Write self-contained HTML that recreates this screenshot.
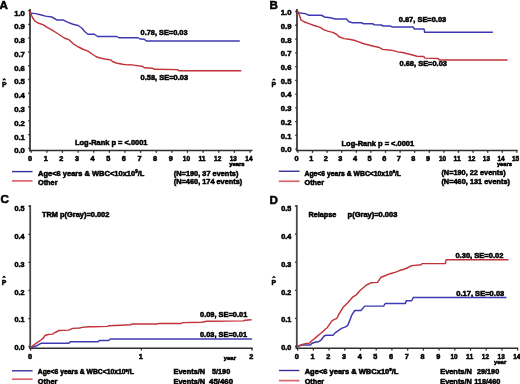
<!DOCTYPE html>
<html><head><meta charset="utf-8"><style>
html,body{margin:0;padding:0;background:#fff;}
body{width:520px;height:384px;overflow:hidden;}
svg{display:block;filter:blur(0.3px);}
text{font-family:"Liberation Sans", sans-serif;}
</style></head><body>
<svg width="520" height="384" viewBox="0 0 520 384">
<rect width="520" height="384" fill="#fff"/>
<text x="-0.60" y="8.98" font-size="11.6" text-anchor="start" font-weight="bold" fill="#000" stroke="#000" stroke-width="0.55">A</text>
<line x1="30.00" y1="9.00" x2="30.00" y2="151.30" stroke="#2e2e2e" stroke-width="1.7"/>
<line x1="29.00" y1="150.50" x2="252.50" y2="150.50" stroke="#2e2e2e" stroke-width="1.45"/>
<line x1="28.20" y1="148.30" x2="30.00" y2="148.30" stroke="#2e2e2e" stroke-width="1.3"/>
<text x="24.90" y="153.27" font-size="7.7" text-anchor="end" font-weight="bold" fill="#000" stroke="#000" stroke-width="0.55">0.0</text>
<line x1="28.20" y1="134.54" x2="30.00" y2="134.54" stroke="#2e2e2e" stroke-width="1.3"/>
<text x="24.90" y="139.51" font-size="7.7" text-anchor="end" font-weight="bold" fill="#000" stroke="#000" stroke-width="0.55">0.1</text>
<line x1="28.20" y1="120.78" x2="30.00" y2="120.78" stroke="#2e2e2e" stroke-width="1.3"/>
<text x="24.90" y="125.75" font-size="7.7" text-anchor="end" font-weight="bold" fill="#000" stroke="#000" stroke-width="0.55">0.2</text>
<line x1="28.20" y1="107.02" x2="30.00" y2="107.02" stroke="#2e2e2e" stroke-width="1.3"/>
<text x="24.90" y="111.99" font-size="7.7" text-anchor="end" font-weight="bold" fill="#000" stroke="#000" stroke-width="0.55">0.3</text>
<line x1="28.20" y1="93.26" x2="30.00" y2="93.26" stroke="#2e2e2e" stroke-width="1.3"/>
<text x="24.90" y="98.23" font-size="7.7" text-anchor="end" font-weight="bold" fill="#000" stroke="#000" stroke-width="0.55">0.4</text>
<line x1="28.20" y1="79.50" x2="30.00" y2="79.50" stroke="#2e2e2e" stroke-width="1.3"/>
<text x="24.90" y="84.47" font-size="7.7" text-anchor="end" font-weight="bold" fill="#000" stroke="#000" stroke-width="0.55">0.5</text>
<line x1="28.20" y1="65.74" x2="30.00" y2="65.74" stroke="#2e2e2e" stroke-width="1.3"/>
<text x="24.90" y="70.71" font-size="7.7" text-anchor="end" font-weight="bold" fill="#000" stroke="#000" stroke-width="0.55">0.6</text>
<line x1="28.20" y1="51.98" x2="30.00" y2="51.98" stroke="#2e2e2e" stroke-width="1.3"/>
<text x="24.90" y="56.95" font-size="7.7" text-anchor="end" font-weight="bold" fill="#000" stroke="#000" stroke-width="0.55">0.7</text>
<line x1="28.20" y1="38.22" x2="30.00" y2="38.22" stroke="#2e2e2e" stroke-width="1.3"/>
<text x="24.90" y="43.19" font-size="7.7" text-anchor="end" font-weight="bold" fill="#000" stroke="#000" stroke-width="0.55">0.8</text>
<line x1="28.20" y1="24.46" x2="30.00" y2="24.46" stroke="#2e2e2e" stroke-width="1.3"/>
<text x="24.90" y="29.43" font-size="7.7" text-anchor="end" font-weight="bold" fill="#000" stroke="#000" stroke-width="0.55">0.9</text>
<line x1="28.20" y1="10.70" x2="30.00" y2="10.70" stroke="#2e2e2e" stroke-width="1.3"/>
<text x="24.90" y="15.67" font-size="7.7" text-anchor="end" font-weight="bold" fill="#000" stroke="#000" stroke-width="0.55">1.0</text>
<line x1="31.20" y1="150.50" x2="31.20" y2="152.80" stroke="#2e2e2e" stroke-width="1.3"/>
<text x="30.10" y="161.23" font-size="7.3" text-anchor="middle" font-weight="bold" fill="#000" stroke="#000" stroke-width="0.55">0</text>
<line x1="46.83" y1="150.50" x2="46.83" y2="152.80" stroke="#2e2e2e" stroke-width="1.3"/>
<text x="45.73" y="161.23" font-size="7.3" text-anchor="middle" font-weight="bold" fill="#000" stroke="#000" stroke-width="0.55">1</text>
<line x1="62.46" y1="150.50" x2="62.46" y2="152.80" stroke="#2e2e2e" stroke-width="1.3"/>
<text x="61.36" y="161.23" font-size="7.3" text-anchor="middle" font-weight="bold" fill="#000" stroke="#000" stroke-width="0.55">2</text>
<line x1="78.09" y1="150.50" x2="78.09" y2="152.80" stroke="#2e2e2e" stroke-width="1.3"/>
<text x="76.99" y="161.23" font-size="7.3" text-anchor="middle" font-weight="bold" fill="#000" stroke="#000" stroke-width="0.55">3</text>
<line x1="93.72" y1="150.50" x2="93.72" y2="152.80" stroke="#2e2e2e" stroke-width="1.3"/>
<text x="92.62" y="161.23" font-size="7.3" text-anchor="middle" font-weight="bold" fill="#000" stroke="#000" stroke-width="0.55">4</text>
<line x1="109.35" y1="150.50" x2="109.35" y2="152.80" stroke="#2e2e2e" stroke-width="1.3"/>
<text x="108.25" y="161.23" font-size="7.3" text-anchor="middle" font-weight="bold" fill="#000" stroke="#000" stroke-width="0.55">5</text>
<line x1="124.98" y1="150.50" x2="124.98" y2="152.80" stroke="#2e2e2e" stroke-width="1.3"/>
<text x="123.88" y="161.23" font-size="7.3" text-anchor="middle" font-weight="bold" fill="#000" stroke="#000" stroke-width="0.55">6</text>
<line x1="140.61" y1="150.50" x2="140.61" y2="152.80" stroke="#2e2e2e" stroke-width="1.3"/>
<text x="139.51" y="161.23" font-size="7.3" text-anchor="middle" font-weight="bold" fill="#000" stroke="#000" stroke-width="0.55">7</text>
<line x1="156.24" y1="150.50" x2="156.24" y2="152.80" stroke="#2e2e2e" stroke-width="1.3"/>
<text x="155.14" y="161.23" font-size="7.3" text-anchor="middle" font-weight="bold" fill="#000" stroke="#000" stroke-width="0.55">8</text>
<line x1="171.87" y1="150.50" x2="171.87" y2="152.80" stroke="#2e2e2e" stroke-width="1.3"/>
<text x="170.77" y="161.23" font-size="7.3" text-anchor="middle" font-weight="bold" fill="#000" stroke="#000" stroke-width="0.55">9</text>
<line x1="187.50" y1="150.50" x2="187.50" y2="152.80" stroke="#2e2e2e" stroke-width="1.3"/>
<text x="186.40" y="161.23" font-size="7.3" text-anchor="middle" font-weight="bold" fill="#000" stroke="#000" stroke-width="0.55" textLength="7.2" lengthAdjust="spacingAndGlyphs">10</text>
<line x1="203.13" y1="150.50" x2="203.13" y2="152.80" stroke="#2e2e2e" stroke-width="1.3"/>
<text x="202.03" y="161.23" font-size="7.3" text-anchor="middle" font-weight="bold" fill="#000" stroke="#000" stroke-width="0.55" textLength="7.2" lengthAdjust="spacingAndGlyphs">11</text>
<line x1="218.76" y1="150.50" x2="218.76" y2="152.80" stroke="#2e2e2e" stroke-width="1.3"/>
<text x="217.66" y="161.23" font-size="7.3" text-anchor="middle" font-weight="bold" fill="#000" stroke="#000" stroke-width="0.55" textLength="7.2" lengthAdjust="spacingAndGlyphs">12</text>
<line x1="234.39" y1="150.50" x2="234.39" y2="152.80" stroke="#2e2e2e" stroke-width="1.3"/>
<text x="233.29" y="161.23" font-size="7.3" text-anchor="middle" font-weight="bold" fill="#000" stroke="#000" stroke-width="0.55" textLength="7.2" lengthAdjust="spacingAndGlyphs">13</text>
<line x1="250.02" y1="150.50" x2="250.02" y2="152.80" stroke="#2e2e2e" stroke-width="1.3"/>
<text x="248.92" y="161.23" font-size="7.3" text-anchor="middle" font-weight="bold" fill="#000" stroke="#000" stroke-width="0.55" textLength="7.2" lengthAdjust="spacingAndGlyphs">14</text>
<text x="229.20" y="165.72" font-size="5.9" text-anchor="start" font-weight="bold" fill="#000" stroke="#000" stroke-width="0.55" textLength="15.4" lengthAdjust="spacingAndGlyphs">years</text>
<text x="4.20" y="87.01" font-size="7.8" text-anchor="middle" font-weight="bold" fill="#000" stroke="#000" stroke-width="0.55" textLength="4.6" lengthAdjust="spacingAndGlyphs">P</text>
<path d="M2.80,80.20 L4.20,78.90 L5.60,80.20" fill="none" stroke="#000" stroke-width="1.2"/>
<text x="140.60" y="34.56" font-size="7.8" text-anchor="start" font-weight="bold" fill="#000" stroke="#000" stroke-width="0.55" textLength="46.9" lengthAdjust="spacingAndGlyphs">0.78, SE=0.03</text>
<text x="140.50" y="80.31" font-size="7.8" text-anchor="start" font-weight="bold" fill="#000" stroke="#000" stroke-width="0.55" textLength="47.6" lengthAdjust="spacingAndGlyphs">0.58, SE=0.03</text>
<text x="75.00" y="145.31" font-size="7.8" text-anchor="start" font-weight="bold" fill="#000" stroke="#000" stroke-width="0.55" textLength="72.5" lengthAdjust="spacingAndGlyphs">Log-Rank p = &lt;.0001</text>
<line x1="12.00" y1="171.60" x2="32.50" y2="171.60" stroke="#35309a" stroke-width="1.4"/>
<line x1="12.00" y1="180.90" x2="32.50" y2="180.90" stroke="#d8646c" stroke-width="1.7"/>
<text x="38.00" y="176.01" font-size="7.8" text-anchor="start" font-weight="bold" fill="#000" stroke="#000" stroke-width="0.55" textLength="106.3" lengthAdjust="spacingAndGlyphs">Age&lt;6 years &amp; WBC&lt;10x10<tspan font-size="4.6" dy="-2.6">9</tspan><tspan dy="2.6">/L</tspan></text>
<text x="38.00" y="184.91" font-size="7.8" text-anchor="start" font-weight="bold" fill="#000" stroke="#000" stroke-width="0.55" textLength="19.5" lengthAdjust="spacingAndGlyphs">Other</text>
<text x="173.80" y="176.11" font-size="7.8" text-anchor="start" font-weight="bold" fill="#000" stroke="#000" stroke-width="0.55" textLength="64.6" lengthAdjust="spacingAndGlyphs">(N=190, 37 events)</text>
<text x="173.80" y="184.41" font-size="7.8" text-anchor="start" font-weight="bold" fill="#000" stroke="#000" stroke-width="0.55" textLength="68.5" lengthAdjust="spacingAndGlyphs">(N=460, 174 events)</text>
<path d="M30.50,13.10 L35.50,13.60 L40.50,14.70 L45.50,16.10 L51.75,17.00 L56.75,19.90 L63.00,19.90 L68.00,22.40 L73.00,24.25 L78.00,25.50 L81.75,28.00 L84.90,31.75 L88.00,34.25 L94.40,34.25 L97.50,36.50 L116.90,36.50 L118.75,37.75 L138.10,37.75 L140.00,39.00 L144.40,39.25 L146.25,41.00 L239.75,41.00" fill="none" stroke="#3e38b2" stroke-width="1.45" stroke-linejoin="round" stroke-linecap="butt"/>
<path d="M30.30,11.00 L30.80,13.00 L31.50,15.20 L32.70,18.00 L35.00,21.10 L38.10,23.00 L42.80,24.60 L46.75,27.20 L51.75,29.90 L56.75,33.00 L60.50,35.50 L64.25,38.00 L69.25,39.90 L73.00,43.60 L78.00,46.75 L83.00,49.25 L88.00,51.10 L92.50,54.25 L96.25,56.75 L100.00,58.00 L105.00,59.00 L110.60,59.90 L112.50,61.50 L116.25,63.00 L122.50,64.25 L127.50,64.90 L130.00,64.60 L135.50,65.40 L142.75,66.50 L144.60,67.80 L152.80,68.30 L154.60,69.30 L177.60,69.60 L179.20,70.80 L241.25,70.80" fill="none" stroke="#c23238" stroke-width="1.45" stroke-linejoin="round" stroke-linecap="butt"/>
<text x="269.50" y="9.08" font-size="11.6" text-anchor="start" font-weight="bold" fill="#000" stroke="#000" stroke-width="0.55">B</text>
<line x1="297.00" y1="9.00" x2="297.00" y2="151.30" stroke="#2e2e2e" stroke-width="1.7"/>
<line x1="296.00" y1="150.50" x2="517.50" y2="150.50" stroke="#2e2e2e" stroke-width="1.45"/>
<line x1="295.20" y1="149.20" x2="297.00" y2="149.20" stroke="#2e2e2e" stroke-width="1.3"/>
<text x="291.50" y="152.37" font-size="7.7" text-anchor="end" font-weight="bold" fill="#000" stroke="#000" stroke-width="0.55">0.0</text>
<line x1="295.20" y1="135.43" x2="297.00" y2="135.43" stroke="#2e2e2e" stroke-width="1.3"/>
<text x="291.50" y="138.65" font-size="7.7" text-anchor="end" font-weight="bold" fill="#000" stroke="#000" stroke-width="0.55">0.1</text>
<line x1="295.20" y1="121.66" x2="297.00" y2="121.66" stroke="#2e2e2e" stroke-width="1.3"/>
<text x="291.50" y="124.93" font-size="7.7" text-anchor="end" font-weight="bold" fill="#000" stroke="#000" stroke-width="0.55">0.2</text>
<line x1="295.20" y1="107.89" x2="297.00" y2="107.89" stroke="#2e2e2e" stroke-width="1.3"/>
<text x="291.50" y="111.21" font-size="7.7" text-anchor="end" font-weight="bold" fill="#000" stroke="#000" stroke-width="0.55">0.3</text>
<line x1="295.20" y1="94.12" x2="297.00" y2="94.12" stroke="#2e2e2e" stroke-width="1.3"/>
<text x="291.50" y="97.49" font-size="7.7" text-anchor="end" font-weight="bold" fill="#000" stroke="#000" stroke-width="0.55">0.4</text>
<line x1="295.20" y1="80.35" x2="297.00" y2="80.35" stroke="#2e2e2e" stroke-width="1.3"/>
<text x="291.50" y="83.77" font-size="7.7" text-anchor="end" font-weight="bold" fill="#000" stroke="#000" stroke-width="0.55">0.5</text>
<line x1="295.20" y1="66.58" x2="297.00" y2="66.58" stroke="#2e2e2e" stroke-width="1.3"/>
<text x="291.50" y="70.05" font-size="7.7" text-anchor="end" font-weight="bold" fill="#000" stroke="#000" stroke-width="0.55">0.6</text>
<line x1="295.20" y1="52.81" x2="297.00" y2="52.81" stroke="#2e2e2e" stroke-width="1.3"/>
<text x="291.50" y="56.33" font-size="7.7" text-anchor="end" font-weight="bold" fill="#000" stroke="#000" stroke-width="0.55">0.7</text>
<line x1="295.20" y1="39.04" x2="297.00" y2="39.04" stroke="#2e2e2e" stroke-width="1.3"/>
<text x="291.50" y="42.61" font-size="7.7" text-anchor="end" font-weight="bold" fill="#000" stroke="#000" stroke-width="0.55">0.8</text>
<line x1="295.20" y1="25.27" x2="297.00" y2="25.27" stroke="#2e2e2e" stroke-width="1.3"/>
<text x="291.50" y="28.89" font-size="7.7" text-anchor="end" font-weight="bold" fill="#000" stroke="#000" stroke-width="0.55">0.9</text>
<line x1="295.20" y1="11.50" x2="297.00" y2="11.50" stroke="#2e2e2e" stroke-width="1.3"/>
<text x="291.50" y="15.17" font-size="7.7" text-anchor="end" font-weight="bold" fill="#000" stroke="#000" stroke-width="0.55">1.0</text>
<line x1="297.90" y1="150.50" x2="297.90" y2="152.80" stroke="#2e2e2e" stroke-width="1.3"/>
<text x="296.60" y="161.43" font-size="7.3" text-anchor="middle" font-weight="bold" fill="#000" stroke="#000" stroke-width="0.55">0</text>
<line x1="312.50" y1="150.50" x2="312.50" y2="152.80" stroke="#2e2e2e" stroke-width="1.3"/>
<text x="311.20" y="161.43" font-size="7.3" text-anchor="middle" font-weight="bold" fill="#000" stroke="#000" stroke-width="0.55">1</text>
<line x1="327.10" y1="150.50" x2="327.10" y2="152.80" stroke="#2e2e2e" stroke-width="1.3"/>
<text x="325.80" y="161.43" font-size="7.3" text-anchor="middle" font-weight="bold" fill="#000" stroke="#000" stroke-width="0.55">2</text>
<line x1="341.70" y1="150.50" x2="341.70" y2="152.80" stroke="#2e2e2e" stroke-width="1.3"/>
<text x="340.40" y="161.43" font-size="7.3" text-anchor="middle" font-weight="bold" fill="#000" stroke="#000" stroke-width="0.55">3</text>
<line x1="356.30" y1="150.50" x2="356.30" y2="152.80" stroke="#2e2e2e" stroke-width="1.3"/>
<text x="355.00" y="161.43" font-size="7.3" text-anchor="middle" font-weight="bold" fill="#000" stroke="#000" stroke-width="0.55">4</text>
<line x1="370.90" y1="150.50" x2="370.90" y2="152.80" stroke="#2e2e2e" stroke-width="1.3"/>
<text x="369.60" y="161.43" font-size="7.3" text-anchor="middle" font-weight="bold" fill="#000" stroke="#000" stroke-width="0.55">5</text>
<line x1="385.50" y1="150.50" x2="385.50" y2="152.80" stroke="#2e2e2e" stroke-width="1.3"/>
<text x="384.20" y="161.43" font-size="7.3" text-anchor="middle" font-weight="bold" fill="#000" stroke="#000" stroke-width="0.55">6</text>
<line x1="400.10" y1="150.50" x2="400.10" y2="152.80" stroke="#2e2e2e" stroke-width="1.3"/>
<text x="398.80" y="161.43" font-size="7.3" text-anchor="middle" font-weight="bold" fill="#000" stroke="#000" stroke-width="0.55">7</text>
<line x1="414.70" y1="150.50" x2="414.70" y2="152.80" stroke="#2e2e2e" stroke-width="1.3"/>
<text x="413.40" y="161.43" font-size="7.3" text-anchor="middle" font-weight="bold" fill="#000" stroke="#000" stroke-width="0.55">8</text>
<line x1="429.30" y1="150.50" x2="429.30" y2="152.80" stroke="#2e2e2e" stroke-width="1.3"/>
<text x="428.00" y="161.43" font-size="7.3" text-anchor="middle" font-weight="bold" fill="#000" stroke="#000" stroke-width="0.55">9</text>
<line x1="443.90" y1="150.50" x2="443.90" y2="152.80" stroke="#2e2e2e" stroke-width="1.3"/>
<text x="442.60" y="161.43" font-size="7.3" text-anchor="middle" font-weight="bold" fill="#000" stroke="#000" stroke-width="0.55" textLength="7.2" lengthAdjust="spacingAndGlyphs">10</text>
<line x1="458.50" y1="150.50" x2="458.50" y2="152.80" stroke="#2e2e2e" stroke-width="1.3"/>
<text x="457.20" y="161.43" font-size="7.3" text-anchor="middle" font-weight="bold" fill="#000" stroke="#000" stroke-width="0.55" textLength="7.2" lengthAdjust="spacingAndGlyphs">11</text>
<line x1="473.10" y1="150.50" x2="473.10" y2="152.80" stroke="#2e2e2e" stroke-width="1.3"/>
<text x="471.80" y="161.43" font-size="7.3" text-anchor="middle" font-weight="bold" fill="#000" stroke="#000" stroke-width="0.55" textLength="7.2" lengthAdjust="spacingAndGlyphs">12</text>
<line x1="487.70" y1="150.50" x2="487.70" y2="152.80" stroke="#2e2e2e" stroke-width="1.3"/>
<text x="486.40" y="161.43" font-size="7.3" text-anchor="middle" font-weight="bold" fill="#000" stroke="#000" stroke-width="0.55" textLength="7.2" lengthAdjust="spacingAndGlyphs">13</text>
<line x1="502.30" y1="150.50" x2="502.30" y2="152.80" stroke="#2e2e2e" stroke-width="1.3"/>
<text x="501.00" y="161.43" font-size="7.3" text-anchor="middle" font-weight="bold" fill="#000" stroke="#000" stroke-width="0.55" textLength="7.2" lengthAdjust="spacingAndGlyphs">14</text>
<line x1="516.90" y1="150.50" x2="516.90" y2="152.80" stroke="#2e2e2e" stroke-width="1.3"/>
<text x="515.60" y="161.43" font-size="7.3" text-anchor="middle" font-weight="bold" fill="#000" stroke="#000" stroke-width="0.55" textLength="7.2" lengthAdjust="spacingAndGlyphs">15</text>
<text x="496.90" y="165.92" font-size="5.9" text-anchor="start" font-weight="bold" fill="#000" stroke="#000" stroke-width="0.55" textLength="15" lengthAdjust="spacingAndGlyphs">years</text>
<text x="273.90" y="87.21" font-size="7.8" text-anchor="middle" font-weight="bold" fill="#000" stroke="#000" stroke-width="0.55" textLength="4.6" lengthAdjust="spacingAndGlyphs">P</text>
<path d="M272.50,80.40 L273.90,79.10 L275.30,80.40" fill="none" stroke="#000" stroke-width="1.2"/>
<text x="398.75" y="22.31" font-size="7.8" text-anchor="start" font-weight="bold" fill="#000" stroke="#000" stroke-width="0.55" textLength="47.5" lengthAdjust="spacingAndGlyphs">0.87, SE=0.03</text>
<text x="399.50" y="66.01" font-size="7.8" text-anchor="start" font-weight="bold" fill="#000" stroke="#000" stroke-width="0.55" textLength="47.5" lengthAdjust="spacingAndGlyphs">0.68, SE=0.03</text>
<text x="341.50" y="145.81" font-size="7.8" text-anchor="start" font-weight="bold" fill="#000" stroke="#000" stroke-width="0.55" textLength="72.7" lengthAdjust="spacingAndGlyphs">Log-Rank p = &lt;.0001</text>
<line x1="278.75" y1="171.25" x2="299.50" y2="171.25" stroke="#35309a" stroke-width="1.4"/>
<line x1="278.75" y1="181.25" x2="299.50" y2="181.25" stroke="#d8646c" stroke-width="1.7"/>
<text x="304.50" y="175.59" font-size="7.2" text-anchor="start" font-weight="bold" fill="#000" stroke="#000" stroke-width="0.55" textLength="96.5" lengthAdjust="spacingAndGlyphs">Age&lt;6 years &amp; WBC&lt;10x10<tspan font-size="4.2" dy="-2.4">9</tspan><tspan dy="2.4">/L</tspan></text>
<text x="304.50" y="185.11" font-size="7.8" text-anchor="start" font-weight="bold" fill="#000" stroke="#000" stroke-width="0.55" textLength="19.5" lengthAdjust="spacingAndGlyphs">Other</text>
<text x="441.40" y="175.11" font-size="7.8" text-anchor="start" font-weight="bold" fill="#000" stroke="#000" stroke-width="0.55" textLength="64.3" lengthAdjust="spacingAndGlyphs">(N=190, 22 events)</text>
<text x="441.40" y="183.61" font-size="7.8" text-anchor="start" font-weight="bold" fill="#000" stroke="#000" stroke-width="0.55" textLength="68.7" lengthAdjust="spacingAndGlyphs">(N=460, 131 events)</text>
<path d="M297.50,11.75 L299.60,13.00 L305.25,13.60 L309.00,15.25 L321.50,15.25 L324.60,17.00 L330.25,17.75 L335.25,19.00 L346.50,19.00 L349.00,21.75 L352.75,22.75 L361.25,22.75 L363.75,23.75 L372.50,23.75 L374.40,24.75 L381.25,25.00 L383.10,26.00 L390.60,26.00 L391.90,26.90 L413.10,26.90 L414.40,29.00 L424.00,29.00 L424.75,32.25 L492.90,32.25" fill="none" stroke="#3e38b2" stroke-width="1.45" stroke-linejoin="round" stroke-linecap="butt"/>
<path d="M297.50,11.10 L299.60,15.50 L300.90,19.90 L304.00,21.75 L309.00,23.60 L314.00,25.50 L320.25,27.40 L324.00,29.90 L327.75,31.10 L332.75,32.40 L336.50,34.25 L339.00,36.75 L344.00,38.60 L349.00,39.25 L354.00,40.30 L358.75,41.90 L363.75,43.75 L368.75,45.00 L373.75,46.25 L379.40,47.50 L382.50,49.40 L388.75,50.00 L393.75,50.60 L397.50,51.90 L402.50,52.50 L407.50,53.75 L412.50,55.00 L416.90,56.25 L423.75,56.50 L425.00,58.10 L438.10,58.50 L439.40,60.00 L507.50,60.00" fill="none" stroke="#c23238" stroke-width="1.45" stroke-linejoin="round" stroke-linecap="butt"/>
<text x="0.40" y="203.28" font-size="11.6" text-anchor="start" font-weight="bold" fill="#000" stroke="#000" stroke-width="0.55">C</text>
<line x1="30.20" y1="205.00" x2="30.20" y2="349.00" stroke="#484848" stroke-width="1.8"/>
<line x1="29.20" y1="348.20" x2="252.75" y2="348.20" stroke="#2e2e2e" stroke-width="1.4"/>
<line x1="28.40" y1="346.70" x2="30.20" y2="346.70" stroke="#2e2e2e" stroke-width="1.3"/>
<text x="24.40" y="350.19" font-size="7.2" text-anchor="end" font-weight="bold" fill="#000" stroke="#000" stroke-width="0.55">0.0</text>
<line x1="28.40" y1="318.60" x2="30.20" y2="318.60" stroke="#2e2e2e" stroke-width="1.3"/>
<text x="24.40" y="322.39" font-size="7.2" text-anchor="end" font-weight="bold" fill="#000" stroke="#000" stroke-width="0.55">0.1</text>
<line x1="28.40" y1="290.50" x2="30.20" y2="290.50" stroke="#2e2e2e" stroke-width="1.3"/>
<text x="24.40" y="294.59" font-size="7.2" text-anchor="end" font-weight="bold" fill="#000" stroke="#000" stroke-width="0.55">0.2</text>
<line x1="28.40" y1="262.40" x2="30.20" y2="262.40" stroke="#2e2e2e" stroke-width="1.3"/>
<text x="24.40" y="266.79" font-size="7.2" text-anchor="end" font-weight="bold" fill="#000" stroke="#000" stroke-width="0.55">0.3</text>
<line x1="28.40" y1="234.30" x2="30.20" y2="234.30" stroke="#2e2e2e" stroke-width="1.3"/>
<text x="24.40" y="238.99" font-size="7.2" text-anchor="end" font-weight="bold" fill="#000" stroke="#000" stroke-width="0.55">0.4</text>
<line x1="28.40" y1="206.20" x2="30.20" y2="206.20" stroke="#2e2e2e" stroke-width="1.3"/>
<text x="24.40" y="211.19" font-size="7.2" text-anchor="end" font-weight="bold" fill="#000" stroke="#000" stroke-width="0.55">0.5</text>
<line x1="30.60" y1="348.30" x2="30.60" y2="350.60" stroke="#2e2e2e" stroke-width="1.3"/>
<text x="30.00" y="358.73" font-size="7.3" text-anchor="middle" font-weight="bold" fill="#000" stroke="#000" stroke-width="0.55">0</text>
<line x1="141.30" y1="348.30" x2="141.30" y2="350.60" stroke="#2e2e2e" stroke-width="1.3"/>
<text x="140.70" y="358.73" font-size="7.3" text-anchor="middle" font-weight="bold" fill="#000" stroke="#000" stroke-width="0.55">1</text>
<line x1="252.00" y1="348.30" x2="252.00" y2="350.60" stroke="#2e2e2e" stroke-width="1.3"/>
<text x="251.40" y="358.73" font-size="7.3" text-anchor="middle" font-weight="bold" fill="#000" stroke="#000" stroke-width="0.55">2</text>
<text x="223.75" y="359.60" font-size="6.1" text-anchor="start" font-weight="bold" fill="#000" stroke="#000" stroke-width="0.55" textLength="12.2" lengthAdjust="spacingAndGlyphs">year</text>
<text x="4.00" y="284.51" font-size="7.8" text-anchor="middle" font-weight="bold" fill="#000" stroke="#000" stroke-width="0.55" textLength="4.6" lengthAdjust="spacingAndGlyphs">P</text>
<path d="M2.60,277.70 L4.00,276.40 L5.40,277.70" fill="none" stroke="#000" stroke-width="1.2"/>
<text x="41.90" y="217.41" font-size="7.8" text-anchor="start" font-weight="bold" fill="#000" stroke="#000" stroke-width="0.55" textLength="67.5" lengthAdjust="spacingAndGlyphs">TRM p(Gray)=0.002</text>
<text x="200.00" y="317.11" font-size="7.8" text-anchor="start" font-weight="bold" fill="#000" stroke="#000" stroke-width="0.55" textLength="47.3" lengthAdjust="spacingAndGlyphs">0.09, SE=0.01</text>
<text x="200.00" y="336.51" font-size="7.8" text-anchor="start" font-weight="bold" fill="#000" stroke="#000" stroke-width="0.55" textLength="47.1" lengthAdjust="spacingAndGlyphs">0.03, SE=0.01</text>
<line x1="12.00" y1="370.80" x2="32.60" y2="370.80" stroke="#35309a" stroke-width="1.4"/>
<line x1="12.00" y1="379.20" x2="32.60" y2="379.20" stroke="#d8646c" stroke-width="1.7"/>
<text x="37.80" y="373.99" font-size="7.2" text-anchor="start" font-weight="bold" fill="#000" stroke="#000" stroke-width="0.55" textLength="96" lengthAdjust="spacingAndGlyphs">Age&lt;6 years &amp; WBC&lt;10x10<tspan font-size="4.2" dy="-2.4">9</tspan><tspan dy="2.4">/L</tspan></text>
<text x="37.80" y="383.51" font-size="7.8" text-anchor="start" font-weight="bold" fill="#000" stroke="#000" stroke-width="0.55" textLength="19.5" lengthAdjust="spacingAndGlyphs">Other</text>
<text x="173.50" y="373.91" font-size="7.8" text-anchor="start" font-weight="bold" fill="#000" stroke="#000" stroke-width="0.55" textLength="31.7" lengthAdjust="spacingAndGlyphs">Events/N</text>
<text x="212.00" y="373.91" font-size="7.8" text-anchor="start" font-weight="bold" fill="#000" stroke="#000" stroke-width="0.55" textLength="18.2" lengthAdjust="spacingAndGlyphs">5/190</text>
<text x="173.50" y="383.51" font-size="7.8" text-anchor="start" font-weight="bold" fill="#000" stroke="#000" stroke-width="0.55" textLength="31.7" lengthAdjust="spacingAndGlyphs">Events/N</text>
<text x="209.00" y="383.51" font-size="7.8" text-anchor="start" font-weight="bold" fill="#000" stroke="#000" stroke-width="0.55" textLength="24.1" lengthAdjust="spacingAndGlyphs">45/460</text>
<path d="M30.60,347.80 L36.10,346.00 L38.80,344.70 L40.90,343.30 L68.60,343.30 L70.70,341.70 L98.10,341.70 L99.50,340.40 L109.00,340.40 L110.30,338.90 L252.10,338.90" fill="none" stroke="#3e38b2" stroke-width="1.45" stroke-linejoin="round" stroke-linecap="butt"/>
<path d="M30.60,347.60 L36.10,343.30 L40.90,340.00 L43.60,337.90 L44.90,335.50 L48.30,334.50 L52.40,334.10 L55.10,332.50 L59.10,330.50 L68.60,330.10 L72.70,328.40 L79.50,328.00 L82.20,327.40 L88.90,326.80 L93.00,326.80 L107.60,326.40 L109.00,325.70 L121.10,325.30 L130.60,324.80 L132.70,324.00 L156.80,324.00 L159.50,323.40 L181.10,323.40 L183.20,322.60 L201.50,322.30 L206.90,321.30 L210.30,321.20 L243.10,320.90 L245.20,320.30 L251.60,319.80" fill="none" stroke="#c23238" stroke-width="1.45" stroke-linejoin="round" stroke-linecap="butt"/>
<text x="269.50" y="203.98" font-size="11.6" text-anchor="start" font-weight="bold" fill="#000" stroke="#000" stroke-width="0.55">D</text>
<line x1="296.80" y1="205.00" x2="296.80" y2="349.00" stroke="#484848" stroke-width="1.8"/>
<line x1="295.60" y1="348.20" x2="518.00" y2="348.20" stroke="#2e2e2e" stroke-width="1.4"/>
<line x1="295.00" y1="346.50" x2="296.80" y2="346.50" stroke="#2e2e2e" stroke-width="1.3"/>
<text x="291.20" y="350.19" font-size="7.2" text-anchor="end" font-weight="bold" fill="#000" stroke="#000" stroke-width="0.55">0.0</text>
<line x1="295.00" y1="318.40" x2="296.80" y2="318.40" stroke="#2e2e2e" stroke-width="1.3"/>
<text x="291.20" y="322.39" font-size="7.2" text-anchor="end" font-weight="bold" fill="#000" stroke="#000" stroke-width="0.55">0.1</text>
<line x1="295.00" y1="290.30" x2="296.80" y2="290.30" stroke="#2e2e2e" stroke-width="1.3"/>
<text x="291.20" y="294.59" font-size="7.2" text-anchor="end" font-weight="bold" fill="#000" stroke="#000" stroke-width="0.55">0.2</text>
<line x1="295.00" y1="262.20" x2="296.80" y2="262.20" stroke="#2e2e2e" stroke-width="1.3"/>
<text x="291.20" y="266.79" font-size="7.2" text-anchor="end" font-weight="bold" fill="#000" stroke="#000" stroke-width="0.55">0.3</text>
<line x1="295.00" y1="234.10" x2="296.80" y2="234.10" stroke="#2e2e2e" stroke-width="1.3"/>
<text x="291.20" y="238.99" font-size="7.2" text-anchor="end" font-weight="bold" fill="#000" stroke="#000" stroke-width="0.55">0.4</text>
<line x1="295.00" y1="206.00" x2="296.80" y2="206.00" stroke="#2e2e2e" stroke-width="1.3"/>
<text x="291.20" y="211.19" font-size="7.2" text-anchor="end" font-weight="bold" fill="#000" stroke="#000" stroke-width="0.55">0.5</text>
<line x1="297.60" y1="348.30" x2="297.60" y2="350.60" stroke="#2e2e2e" stroke-width="1.3"/>
<text x="296.80" y="358.88" font-size="7.3" text-anchor="middle" font-weight="bold" fill="#000" stroke="#000" stroke-width="0.55">0</text>
<line x1="313.32" y1="348.30" x2="313.32" y2="350.60" stroke="#2e2e2e" stroke-width="1.3"/>
<text x="312.52" y="358.88" font-size="7.3" text-anchor="middle" font-weight="bold" fill="#000" stroke="#000" stroke-width="0.55">1</text>
<line x1="329.04" y1="348.30" x2="329.04" y2="350.60" stroke="#2e2e2e" stroke-width="1.3"/>
<text x="328.24" y="358.88" font-size="7.3" text-anchor="middle" font-weight="bold" fill="#000" stroke="#000" stroke-width="0.55">2</text>
<line x1="344.76" y1="348.30" x2="344.76" y2="350.60" stroke="#2e2e2e" stroke-width="1.3"/>
<text x="343.96" y="358.88" font-size="7.3" text-anchor="middle" font-weight="bold" fill="#000" stroke="#000" stroke-width="0.55">3</text>
<line x1="360.48" y1="348.30" x2="360.48" y2="350.60" stroke="#2e2e2e" stroke-width="1.3"/>
<text x="359.68" y="358.88" font-size="7.3" text-anchor="middle" font-weight="bold" fill="#000" stroke="#000" stroke-width="0.55">4</text>
<line x1="376.20" y1="348.30" x2="376.20" y2="350.60" stroke="#2e2e2e" stroke-width="1.3"/>
<text x="375.40" y="358.88" font-size="7.3" text-anchor="middle" font-weight="bold" fill="#000" stroke="#000" stroke-width="0.55">5</text>
<line x1="391.92" y1="348.30" x2="391.92" y2="350.60" stroke="#2e2e2e" stroke-width="1.3"/>
<text x="391.12" y="358.88" font-size="7.3" text-anchor="middle" font-weight="bold" fill="#000" stroke="#000" stroke-width="0.55">6</text>
<line x1="407.64" y1="348.30" x2="407.64" y2="350.60" stroke="#2e2e2e" stroke-width="1.3"/>
<text x="406.84" y="358.88" font-size="7.3" text-anchor="middle" font-weight="bold" fill="#000" stroke="#000" stroke-width="0.55">7</text>
<line x1="423.36" y1="348.30" x2="423.36" y2="350.60" stroke="#2e2e2e" stroke-width="1.3"/>
<text x="422.56" y="358.88" font-size="7.3" text-anchor="middle" font-weight="bold" fill="#000" stroke="#000" stroke-width="0.55">8</text>
<line x1="439.08" y1="348.30" x2="439.08" y2="350.60" stroke="#2e2e2e" stroke-width="1.3"/>
<text x="438.28" y="358.88" font-size="7.3" text-anchor="middle" font-weight="bold" fill="#000" stroke="#000" stroke-width="0.55">9</text>
<line x1="454.80" y1="348.30" x2="454.80" y2="350.60" stroke="#2e2e2e" stroke-width="1.3"/>
<text x="454.00" y="358.88" font-size="7.3" text-anchor="middle" font-weight="bold" fill="#000" stroke="#000" stroke-width="0.55" textLength="7.2" lengthAdjust="spacingAndGlyphs">10</text>
<line x1="470.52" y1="348.30" x2="470.52" y2="350.60" stroke="#2e2e2e" stroke-width="1.3"/>
<text x="469.72" y="358.88" font-size="7.3" text-anchor="middle" font-weight="bold" fill="#000" stroke="#000" stroke-width="0.55" textLength="7.2" lengthAdjust="spacingAndGlyphs">11</text>
<line x1="486.24" y1="348.30" x2="486.24" y2="350.60" stroke="#2e2e2e" stroke-width="1.3"/>
<text x="485.44" y="358.88" font-size="7.3" text-anchor="middle" font-weight="bold" fill="#000" stroke="#000" stroke-width="0.55" textLength="7.2" lengthAdjust="spacingAndGlyphs">12</text>
<line x1="501.96" y1="348.30" x2="501.96" y2="350.60" stroke="#2e2e2e" stroke-width="1.3"/>
<text x="501.16" y="358.88" font-size="7.3" text-anchor="middle" font-weight="bold" fill="#000" stroke="#000" stroke-width="0.55" textLength="7.2" lengthAdjust="spacingAndGlyphs">13</text>
<line x1="517.68" y1="348.30" x2="517.68" y2="350.60" stroke="#2e2e2e" stroke-width="1.3"/>
<text x="516.88" y="358.88" font-size="7.3" text-anchor="middle" font-weight="bold" fill="#000" stroke="#000" stroke-width="0.55" textLength="7.2" lengthAdjust="spacingAndGlyphs">14</text>
<text x="494.00" y="364.10" font-size="6.1" text-anchor="start" font-weight="bold" fill="#000" stroke="#000" stroke-width="0.55" textLength="12.2" lengthAdjust="spacingAndGlyphs">year</text>
<text x="273.90" y="284.71" font-size="7.8" text-anchor="middle" font-weight="bold" fill="#000" stroke="#000" stroke-width="0.55" textLength="4.6" lengthAdjust="spacingAndGlyphs">P</text>
<path d="M272.50,277.90 L273.90,276.60 L275.30,277.90" fill="none" stroke="#000" stroke-width="1.2"/>
<text x="308.50" y="217.31" font-size="7.8" text-anchor="start" font-weight="bold" fill="#000" stroke="#000" stroke-width="0.55" textLength="27.9" lengthAdjust="spacingAndGlyphs">Relapse</text>
<text x="347.60" y="217.31" font-size="7.8" text-anchor="start" font-weight="bold" fill="#000" stroke="#000" stroke-width="0.55" textLength="49.7" lengthAdjust="spacingAndGlyphs">p(Gray)=0.003</text>
<text x="455.40" y="258.41" font-size="7.8" text-anchor="start" font-weight="bold" fill="#000" stroke="#000" stroke-width="0.55" textLength="48.1" lengthAdjust="spacingAndGlyphs">0.30, SE=0.02</text>
<text x="456.20" y="296.01" font-size="7.8" text-anchor="start" font-weight="bold" fill="#000" stroke="#000" stroke-width="0.55" textLength="48.1" lengthAdjust="spacingAndGlyphs">0.17, SE=0.03</text>
<line x1="279.00" y1="370.50" x2="299.40" y2="370.50" stroke="#35309a" stroke-width="1.4"/>
<line x1="279.00" y1="380.60" x2="299.40" y2="380.60" stroke="#d8646c" stroke-width="1.7"/>
<text x="304.70" y="373.69" font-size="7.2" text-anchor="start" font-weight="bold" fill="#000" stroke="#000" stroke-width="0.55" textLength="93.7" lengthAdjust="spacingAndGlyphs">Age&lt;6 years &amp; WBCx10<tspan font-size="4.2" dy="-2.4">9</tspan><tspan dy="2.4">/L</tspan></text>
<text x="304.70" y="383.81" font-size="7.8" text-anchor="start" font-weight="bold" fill="#000" stroke="#000" stroke-width="0.55" textLength="19.5" lengthAdjust="spacingAndGlyphs">Other</text>
<text x="440.20" y="373.91" font-size="7.8" text-anchor="start" font-weight="bold" fill="#000" stroke="#000" stroke-width="0.55" textLength="31.7" lengthAdjust="spacingAndGlyphs">Events/N</text>
<text x="477.00" y="373.91" font-size="7.8" text-anchor="start" font-weight="bold" fill="#000" stroke="#000" stroke-width="0.55" textLength="22.2" lengthAdjust="spacingAndGlyphs">29/190</text>
<text x="440.20" y="383.51" font-size="7.8" text-anchor="start" font-weight="bold" fill="#000" stroke="#000" stroke-width="0.55" textLength="31.7" lengthAdjust="spacingAndGlyphs">Events/N</text>
<text x="474.20" y="383.51" font-size="7.8" text-anchor="start" font-weight="bold" fill="#000" stroke="#000" stroke-width="0.55" textLength="26.2" lengthAdjust="spacingAndGlyphs">118/460</text>
<path d="M297.40,346.80 L302.25,344.90 L310.60,344.90 L311.60,343.50 L314.75,342.30 L318.40,341.80 L321.00,340.20 L324.10,336.00 L326.20,335.30 L333.00,335.30 L335.00,332.90 L336.90,331.60 L341.60,328.40 L345.50,326.90 L347.80,325.30 L349.40,321.40 L351.70,315.20 L354.80,310.50 L361.00,310.50 L364.60,306.10 L383.70,306.10 L385.20,303.50 L405.50,303.50 L406.25,300.80 L411.70,300.80 L413.30,297.50 L506.50,297.50" fill="none" stroke="#3e38b2" stroke-width="1.45" stroke-linejoin="round" stroke-linecap="butt"/>
<path d="M297.40,346.50 L302.25,344.40 L306.40,343.50 L309.50,343.10 L311.10,341.25 L313.70,339.20 L316.80,336.60 L320.00,334.00 L323.10,331.40 L325.20,329.30 L327.25,327.70 L329.30,324.60 L331.90,320.90 L334.50,319.40 L336.90,318.30 L339.20,313.60 L343.10,307.30 L347.80,302.70 L352.50,297.20 L356.40,294.80 L360.30,290.20 L365.00,286.25 L366.40,285.00 L371.00,282.80 L377.40,282.40 L381.00,277.30 L385.60,275.50 L390.10,273.70 L396.50,271.90 L400.00,270.30 L403.10,269.50 L407.00,268.00 L411.70,265.60 L421.10,264.80 L421.90,263.60 L445.30,263.60 L446.10,259.80 L508.50,259.80" fill="none" stroke="#c23238" stroke-width="1.45" stroke-linejoin="round" stroke-linecap="butt"/>
</svg>
</body></html>
